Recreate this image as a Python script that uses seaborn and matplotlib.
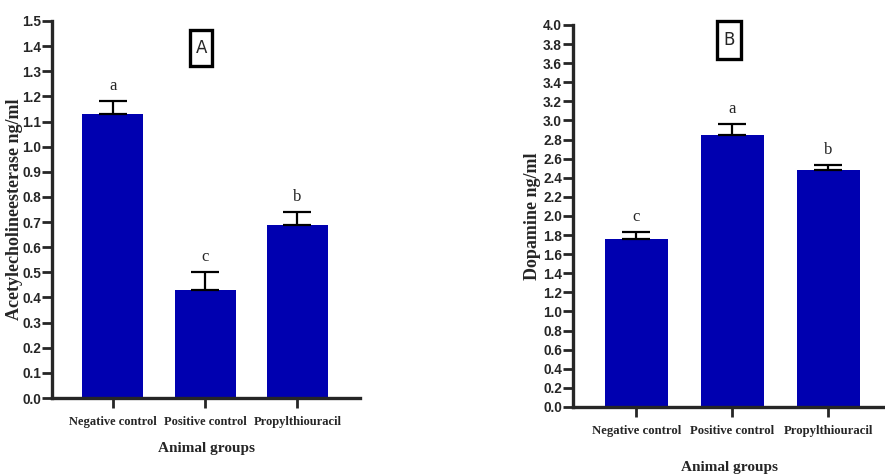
import pandas as pd
import seaborn as sns
import matplotlib.pyplot as plt
from matplotlib.patches import Rectangle
import numpy as np

groups = ["Negative control", "Positive control", "Propylthiouracil"]
ache_mean = [1.13, 0.43, 0.69]
ache_err = [0.05, 0.07, 0.05]
ache_letters = ["a", "c", "b"]
dopa_mean = [1.76, 2.85, 2.48]
dopa_err = [0.07, 0.11, 0.05]
dopa_letters = ["c", "a", "b"]

sns.set_style("ticks")
plt.rcParams["font.family"] = ["Liberation Serif", "DejaVu Serif"]

num_font = ["Liberation Sans", "DejaVu Sans"]
bar_color = "#0000B0"

fig = plt.figure(figsize=(8.85, 4.74), dpi=100)
axA = fig.add_axes([0.0588, 0.1603, 0.348, 0.7954])
axB = fig.add_axes([0.6475, 0.1414, 0.3525, 0.806])


def panel(ax, means, errs, letters, ylabel, ymax, step, tag, box, xlab_pad, ylab_x, cat_size):
    df = pd.DataFrame({"group": groups, "value": means})
    sns.barplot(data=df, x="group", y="value", color=bar_color, saturation=1,
                width=0.66, errorbar=None, ax=ax, linewidth=0)
    x = np.arange(len(groups))
    ax.errorbar(x, means, yerr=[np.zeros(len(errs)), errs], fmt="none",
                ecolor="black", elinewidth=1.6, capsize=10, capthick=1.6)
    for xi, m, e, l in zip(x, means, errs, letters):
        ax.annotate(l, (xi, m + e), xytext=(0, 5), textcoords="offset points",
                    ha="center", va="bottom", fontsize=12)
    ax.set_ylim(0, ymax)
    ax.set_xlim(-0.66, 2.68)
    ticks = np.arange(0, ymax + step / 2, step)
    ax.set_yticks(ticks)
    ax.set_yticklabels([f"{v:.1f}" for v in ticks],
                       fontsize=9.8, fontweight="bold", family=num_font)
    ax.set_xticks(x)
    ax.set_xticklabels(groups, fontsize=cat_size, fontweight="bold")
    ax.tick_params(axis="y", length=7, width=2, pad=1)
    ax.tick_params(axis="x", length=7, width=2, pad=6)
    sns.despine(ax=ax)
    for s in ["left", "bottom"]:
        ax.spines[s].set_linewidth(2.4)
    ax.set_ylabel(ylabel, fontsize=13, fontweight="bold")
    ax.yaxis.set_label_coords(ylab_x, 0.5)
    ax.set_xlabel("Animal groups", fontsize=11, fontweight="bold", labelpad=xlab_pad)
    # boxed panel tag
    bx, by, bw, bh = box
    ax.add_patch(Rectangle((bx - bw / 2, by - bh / 2), bw, bh, transform=ax.transAxes,
                           fc="white", ec="black", lw=2.4, clip_on=False, zorder=5))
    ax.text(bx, by, tag, transform=ax.transAxes, ha="center", va="center",
            fontsize=12, family=["DejaVu Sans"], zorder=6)


panel(axA, ache_mean, ache_err, ache_letters, "Acetylecholineesterase ng/ml",
      1.5, 0.1, "A", (0.484, 0.928, 0.072, 0.094), 10, -0.094, 9.0)
panel(axB, dopa_mean, dopa_err, dopa_letters, "Dopamine ng/ml",
      4.0, 0.2, "B", (0.5, 0.961, 0.078, 0.098), 17, -0.103, 9.2)
axB.set_xlim(-0.66, 2.59)

fig.savefig("out.png", dpi=100)
